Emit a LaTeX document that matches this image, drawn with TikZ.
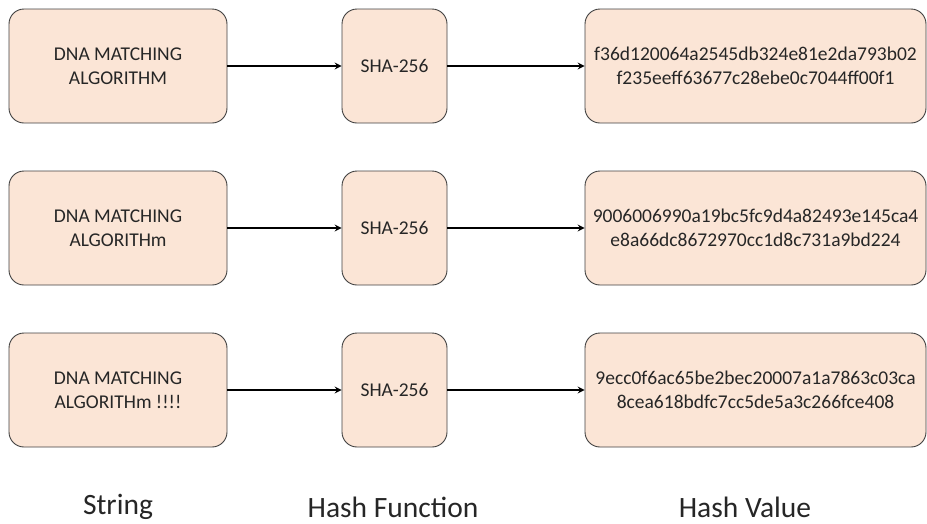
\documentclass[tikz,border=0pt]{standalone}
\usepackage{fontspec}
\setmainfont{Carlito}
\usetikzlibrary{shapes.geometric, arrows}
\definecolor{peach}{HTML}{FBE5D6}
\definecolor{edgegray}{HTML}{404040}
\tikzstyle{strbox} = [rectangle, rounded corners=15pt, minimum width=218pt, minimum height=114pt, text centered, align=center, draw=edgegray, line width=0.9pt, fill=peach, text=black!85, font=\fontsize{19.5}{24}\selectfont]
\tikzstyle{hashbox} = [strbox, minimum width=105pt]
\tikzstyle{valbox} = [strbox, minimum width=341pt]
\tikzstyle{caption} = [text=black!85, font=\fontsize{29.5}{34}\selectfont]
\tikzstyle{arrow} = [->,>=stealth, line width=2pt]

\begin{document}
\begin{tikzpicture}[x=1pt, y=-1pt]
		\useasboundingbox (0,0) rectangle (927,523);
		% row 1
		\node (str1) [strbox] at (118,66) {DNA MATCHING\\ALGORITHM};
		\node (sha1) [hashbox] at (394.5,66) {SHA-256};
		\node (val1) [valbox] at (755.5,66) {f36d120064a2545db324e81e2da793b02\\f235eeff63677c28ebe0c7044ff00f1};
		% row 2
		\node (str2) [strbox] at (118,228) {DNA MATCHING\\ALGORITHm};
		\node (sha2) [hashbox] at (394.5,228) {SHA-256};
		\node (val2) [valbox] at (755.5,228) {9006006990a19bc5fc9d4a82493e145ca4\\e8a66dc8672970cc1d8c731a9bd224};
		% row 3
		\node (str3) [strbox] at (118,390) {DNA MATCHING\\ALGORITHm !!!!};
		\node (sha3) [hashbox] at (394.5,390) {SHA-256};
		\node (val3) [valbox] at (755.5,390) {9ecc0f6ac65be2bec20007a1a7863c03ca\\8cea618bdfc7cc5de5a3c266fce408};

		\node (cstr) [caption] at (118,507) {String};
		\node (chash) [caption] at (393,507) {Hash Function};
		\node (cval) [caption] at (745,507) {Hash Value};

		\draw [arrow](str1) -- (sha1);
		\draw [arrow](sha1) -- (val1);
		\draw [arrow](str2) -- (sha2);
		\draw [arrow](sha2) -- (val2);
		\draw [arrow](str3) -- (sha3);
		\draw [arrow](sha3) -- (val3);
	\end{tikzpicture}
\end{document}
